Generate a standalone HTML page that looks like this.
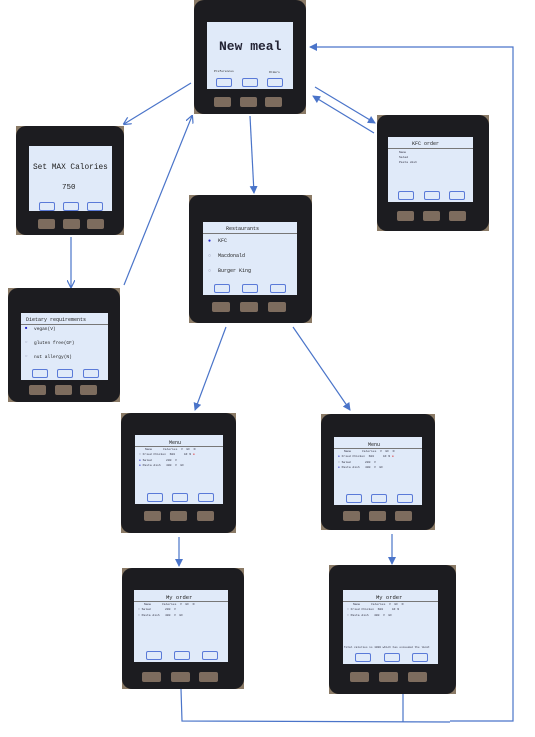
<!DOCTYPE html>
<html><head><meta charset="utf-8"><style>
html,body{margin:0;padding:0;background:#fff;}
body{width:535px;height:737px;position:relative;overflow:hidden;font-family:"Liberation Mono",monospace;}
.dev{position:absolute;background:#8a7a66;}
.dev .body{position:absolute;inset:0;background:#1c1c20;border-radius:10px;}
.scr{position:absolute;background:#e0eaf9;color:#222;overflow:hidden;}
.btn{position:absolute;background:#7d6c5e;border-radius:2px;height:10px;width:17px;}
.t{position:absolute;white-space:nowrap;}
.sb{position:absolute;bottom:2px;height:7px;width:14px;border:1px solid #5a7ad8;border-radius:2px;}
.hr{position:absolute;left:0;right:0;height:1px;background:#777;}
.row{position:absolute;font-size:3px;color:#334;}
</style></head><body>

<svg width="535" height="737" style="position:absolute;left:0;top:0" xmlns="http://www.w3.org/2000/svg">
<defs><marker id="a" markerWidth="8" markerHeight="8" refX="7" refY="4" orient="auto" markerUnits="userSpaceOnUse"><path d="M0,0 L8,4 L0,8" fill="none" stroke="#4a74c9" stroke-width="1.2"/></marker>
<marker id="f" markerWidth="8" markerHeight="8" refX="7" refY="4" orient="auto" markerUnits="userSpaceOnUse"><path d="M0,0 L8,4 L0,8z" fill="#4a74c9"/></marker></defs>
<g stroke="#4a74c9" stroke-width="1.2" fill="none">
<line x1="191" y1="83" x2="124" y2="124" marker-end="url(#a)"/>
<line x1="124" y1="285" x2="192" y2="116" marker-end="url(#a)"/>
<line x1="250" y1="116" x2="254" y2="193" marker-end="url(#f)"/>
<line x1="315" y1="87" x2="375" y2="123" marker-end="url(#f)"/>
<line x1="374" y1="133" x2="313" y2="96" marker-end="url(#f)"/>
<line x1="71" y1="237" x2="71" y2="287" marker-end="url(#a)"/>
<line x1="226" y1="327" x2="195" y2="410" marker-end="url(#f)"/>
<line x1="293" y1="327" x2="350" y2="410" marker-end="url(#f)"/>
<line x1="179" y1="537" x2="179" y2="566" marker-end="url(#f)"/>
<line x1="392" y1="534" x2="392" y2="564" marker-end="url(#f)"/>
<polyline points="181,689 182,721 450,722"/>
<line x1="403" y1="694" x2="403" y2="722"/>
<polyline points="450,721 513,721 513,47 310,47" marker-end="url(#f)"/>
</g></svg>

<div class="dev" style="left:194px;top:0;width:112px;height:114px"><div class="body"></div>
<div class="scr" style="left:13px;top:22px;width:86px;height:67px">
<div class="t" style="left:12px;top:17px;font-size:13px;font-weight:bold;color:#223">New meal</div>
<div class="t" style="left:7px;top:48px;font-size:3px">Preferences</div><div class="t" style="left:62px;top:49px;font-size:3px">Orders</div>
<div class="sb" style="left:9px"></div><div class="sb" style="left:35px"></div><div class="sb" style="left:60px"></div></div>
<div class="btn" style="left:20px;top:97px"></div><div class="btn" style="left:46px;top:97px"></div><div class="btn" style="left:71px;top:97px"></div></div>

<div class="dev" style="left:16px;top:126px;width:108px;height:109px"><div class="body"></div>
<div class="scr" style="left:13px;top:20px;width:83px;height:65px">
<div class="t" style="left:4px;top:18px;font-size:7.8px">Set MAX Calories</div>
<div class="t" style="left:33px;top:38px;font-size:7.5px">750</div>
<div class="sb" style="left:10px;bottom:0"></div><div class="sb" style="left:34px;bottom:0"></div><div class="sb" style="left:58px;bottom:0"></div></div>
<div class="btn" style="left:22px;top:93px"></div><div class="btn" style="left:47px;top:93px"></div><div class="btn" style="left:71px;top:93px"></div></div>

<div class="dev" style="left:377px;top:115px;width:112px;height:116px"><div class="body"></div>
<div class="scr" style="left:11px;top:22px;width:85px;height:65px">
<div class="t" style="left:24px;top:4px;font-size:5px">KFC order</div><div class="hr" style="top:11px"></div>
<div class="row" style="left:11px;top:14px">Name</div><div class="row" style="left:11px;top:19px">Salad</div><div class="row" style="left:11px;top:24px">Pasta dish</div>
<div class="sb" style="left:10px"></div><div class="sb" style="left:36px"></div><div class="sb" style="left:61px"></div></div>
<div class="btn" style="left:20px;top:96px"></div><div class="btn" style="left:46px;top:96px"></div><div class="btn" style="left:72px;top:96px"></div></div>

<div class="dev" style="left:189px;top:195px;width:123px;height:128px"><div class="body"></div>
<div class="scr" style="left:14px;top:27px;width:94px;height:73px">
<div class="t" style="left:23px;top:4px;font-size:5px">Restaurants</div><div class="hr" style="top:11px"></div>
<div class="t" style="left:5px;top:16px;font-size:5px;color:#22c">●</div><div class="t" style="left:15px;top:16px;font-size:5px">KFC</div>
<div class="t" style="left:5px;top:31px;font-size:5px;color:#88a">○</div><div class="t" style="left:15px;top:31px;font-size:5px">Macdonald</div>
<div class="t" style="left:5px;top:46px;font-size:5px;color:#88a">○</div><div class="t" style="left:15px;top:46px;font-size:5px">Burger King</div>
<div class="sb" style="left:11px"></div><div class="sb" style="left:39px"></div><div class="sb" style="left:67px"></div></div>
<div class="btn" style="left:23px;top:107px;width:18px"></div><div class="btn" style="left:51px;top:107px;width:18px"></div><div class="btn" style="left:79px;top:107px;width:18px"></div></div>

<div class="dev" style="left:8px;top:288px;width:112px;height:114px"><div class="body"></div>
<div class="scr" style="left:13px;top:25px;width:87px;height:67px">
<div class="t" style="left:5px;top:4px;font-size:5px">Dietary requirements</div><div class="hr" style="top:11px"></div>
<div class="t" style="left:4px;top:14px;font-size:4px;color:#22c">■</div><div class="t" style="left:13px;top:14px;font-size:4.5px">vegan(V)</div>
<div class="t" style="left:4px;top:28px;font-size:4px;color:#88a">○</div><div class="t" style="left:13px;top:28px;font-size:4.5px">gluten free(GF)</div>
<div class="t" style="left:4px;top:42px;font-size:4px;color:#88a">○</div><div class="t" style="left:13px;top:42px;font-size:4.5px">nut allergy(N)</div>
<div class="sb" style="left:11px"></div><div class="sb" style="left:36px"></div><div class="sb" style="left:62px"></div></div>
<div class="btn" style="left:21px;top:97px"></div><div class="btn" style="left:47px;top:97px"></div><div class="btn" style="left:72px;top:97px"></div></div>

<div class="dev" style="left:121px;top:413px;width:115px;height:120px"><div class="body"></div>
<div class="scr" style="left:14px;top:22px;width:88px;height:69px">
<div class="t" style="left:34px;top:5px;font-size:5px">Menu</div><div class="hr" style="top:11px"></div>
<div class="row" style="left:10px;top:13px">Name&nbsp;&nbsp;&nbsp;&nbsp;&nbsp;&nbsp;Calories&nbsp;&nbsp;V&nbsp;&nbsp;GF&nbsp;&nbsp;N</div>
<div class="row" style="left:4px;top:18px">○ Fried Chicken&nbsp;&nbsp;600&nbsp;&nbsp;&nbsp;&nbsp;&nbsp;GF&nbsp;N <span style="color:#d22">●</span></div>
<div class="row" style="left:4px;top:24px"><span style="color:#22c">●</span> Salad&nbsp;&nbsp;&nbsp;&nbsp;&nbsp;&nbsp;&nbsp;&nbsp;200&nbsp;&nbsp;V</div>
<div class="row" style="left:4px;top:29px"><span style="color:#22c">●</span> Pasta dish&nbsp;&nbsp;&nbsp;400&nbsp;&nbsp;V&nbsp;&nbsp;GF</div>
<div class="sb" style="left:12px"></div><div class="sb" style="left:37px"></div><div class="sb" style="left:63px"></div></div>
<div class="btn" style="left:23px;top:98px"></div><div class="btn" style="left:49px;top:98px"></div><div class="btn" style="left:76px;top:98px"></div></div>

<div class="dev" style="left:321px;top:414px;width:114px;height:116px"><div class="body"></div>
<div class="scr" style="left:13px;top:23px;width:88px;height:68px">
<div class="t" style="left:34px;top:5px;font-size:5px">Menu</div><div class="hr" style="top:11px"></div>
<div class="row" style="left:10px;top:13px">Name&nbsp;&nbsp;&nbsp;&nbsp;&nbsp;&nbsp;Calories&nbsp;&nbsp;V&nbsp;&nbsp;GF&nbsp;&nbsp;N</div>
<div class="row" style="left:4px;top:18px"><span style="color:#22c">●</span> Fried Chicken&nbsp;&nbsp;600&nbsp;&nbsp;&nbsp;&nbsp;&nbsp;GF&nbsp;N <span style="color:#d22">●</span></div>
<div class="row" style="left:4px;top:24px">○ Salad&nbsp;&nbsp;&nbsp;&nbsp;&nbsp;&nbsp;&nbsp;&nbsp;200&nbsp;&nbsp;V</div>
<div class="row" style="left:4px;top:29px"><span style="color:#22c">●</span> Pasta dish&nbsp;&nbsp;&nbsp;400&nbsp;&nbsp;V&nbsp;&nbsp;GF</div>
<div class="sb" style="left:12px"></div><div class="sb" style="left:37px"></div><div class="sb" style="left:63px"></div></div>
<div class="btn" style="left:22px;top:97px"></div><div class="btn" style="left:48px;top:97px"></div><div class="btn" style="left:74px;top:97px"></div></div>

<div class="dev" style="left:122px;top:568px;width:122px;height:121px"><div class="body"></div>
<div class="scr" style="left:12px;top:22px;width:94px;height:72px">
<div class="t" style="left:32px;top:4px;font-size:5.5px">My order</div><div class="hr" style="top:11px"></div>
<div class="row" style="left:10px;top:13px">Name&nbsp;&nbsp;&nbsp;&nbsp;&nbsp;&nbsp;Calories&nbsp;&nbsp;V&nbsp;&nbsp;GF&nbsp;&nbsp;N</div>
<div class="row" style="left:4px;top:18px">○ Salad&nbsp;&nbsp;&nbsp;&nbsp;&nbsp;&nbsp;&nbsp;&nbsp;200&nbsp;&nbsp;V</div>
<div class="row" style="left:4px;top:24px">○ Pasta dish&nbsp;&nbsp;&nbsp;400&nbsp;&nbsp;V&nbsp;&nbsp;GF</div>
<div class="sb" style="left:12px"></div><div class="sb" style="left:40px"></div><div class="sb" style="left:68px"></div></div>
<div class="btn" style="left:20px;top:104px;width:19px"></div><div class="btn" style="left:49px;top:104px;width:19px"></div><div class="btn" style="left:77px;top:104px;width:19px"></div></div>

<div class="dev" style="left:329px;top:565px;width:127px;height:129px"><div class="body"></div>
<div class="scr" style="left:14px;top:25px;width:95px;height:74px">
<div class="t" style="left:33px;top:4px;font-size:5.5px">My order</div><div class="hr" style="top:11px"></div>
<div class="row" style="left:10px;top:13px">Name&nbsp;&nbsp;&nbsp;&nbsp;&nbsp;&nbsp;Calories&nbsp;&nbsp;V&nbsp;&nbsp;GF&nbsp;&nbsp;N</div>
<div class="row" style="left:4px;top:18px">○ Fried Chicken&nbsp;&nbsp;600&nbsp;&nbsp;&nbsp;&nbsp;&nbsp;GF&nbsp;N</div>
<div class="row" style="left:4px;top:24px">○ Pasta dish&nbsp;&nbsp;&nbsp;400&nbsp;&nbsp;V&nbsp;&nbsp;GF</div>
<div class="row" style="left:1px;top:56px;font-size:2.8px">Total calories is 1000 which has exceeded the limit</div>
<div class="sb" style="left:12px"></div><div class="sb" style="left:41px"></div><div class="sb" style="left:69px"></div></div>
<div class="btn" style="left:21px;top:107px;width:19px"></div><div class="btn" style="left:50px;top:107px;width:19px"></div><div class="btn" style="left:79px;top:107px;width:19px"></div></div>

</body></html>
